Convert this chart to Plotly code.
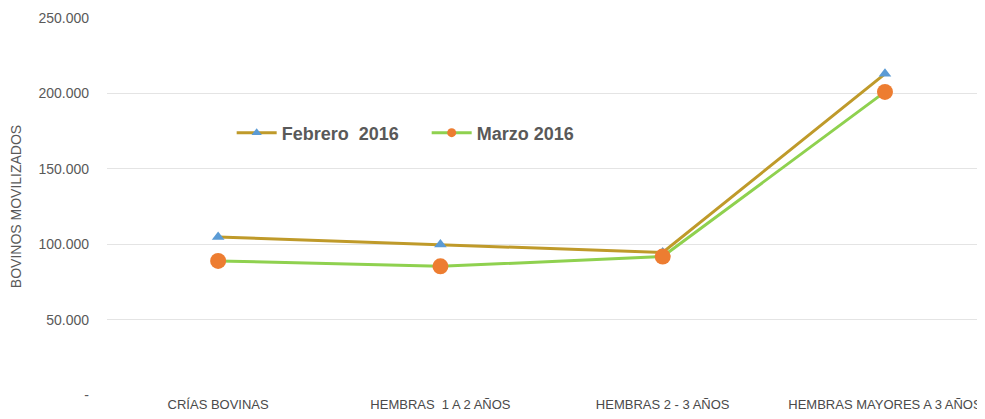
import plotly.graph_objects as go

categories = ["CRÍAS BOVINAS", "HEMBRAS  1 A 2 AÑOS", "HEMBRAS 2 - 3 AÑOS", "HEMBRAS MAYORES A 3 AÑOS"]
febrero_2016 = [104800, 99800, 94500, 213000]
marzo_2016 = [88900, 85300, 91800, 201000]
y_tick_vals = [0, 50000, 100000, 150000, 200000, 250000]
y_tick_text = ["-", "50.000", "100.000", "150.000", "200.000", "250.000"]

FEB_LINE, FEB_MARK = "#BF9A2A", "#5B9BD5"
MAR_LINE, MAR_MARK = "#8FD14F", "#ED7D31"

fig = go.Figure()
fig.add_trace(go.Scatter(
    x=categories, y=febrero_2016, name="Febrero  2016", mode="lines+markers",
    line=dict(color=FEB_LINE, width=3),
    marker=dict(symbol="triangle-up", size=11, color=FEB_MARK),
    showlegend=False,
))
fig.add_trace(go.Scatter(
    x=categories, y=marzo_2016, name="Marzo 2016", mode="lines+markers",
    line=dict(color=MAR_LINE, width=3),
    marker=dict(symbol="circle", size=16, color=MAR_MARK),
    showlegend=False,
))
# legend entries with smaller symbols (draw nothing on the plot)
fig.add_trace(go.Scatter(
    x=[None], y=[None], name="Febrero  2016", mode="lines+markers",
    line=dict(color=FEB_LINE, width=3),
    marker=dict(symbol="triangle-up", size=9, color=FEB_MARK),
))
fig.add_trace(go.Scatter(
    x=[None], y=[None], name="Marzo 2016", mode="lines+markers",
    line=dict(color=MAR_LINE, width=3),
    marker=dict(symbol="circle", size=9, color=MAR_MARK),
))

fig.update_layout(
    width=985, height=419,
    margin=dict(l=99, r=8, t=10, b=32),
    paper_bgcolor="white", plot_bgcolor="white",
    font=dict(family="Liberation Sans, sans-serif", color="#595959", size=12),
    showlegend=True,
    legend=dict(
        orientation="h", x=0.142, xanchor="left", y=0.695, yanchor="middle",
        font=dict(family="Liberation Sans, sans-serif", size=18, color="#595959", weight="bold"),
        bgcolor="rgba(0,0,0,0)", itemwidth=40,
        entrywidth=140, entrywidthmode="pixels",
    ),
    xaxis=dict(
        type="category", range=[-0.5, 3.45], showgrid=False, zeroline=False,
        showline=False, ticks="", automargin=False,
        tickfont=dict(size=13, color="#4a4a4a"),
    ),
    yaxis=dict(
        range=[0, 250000], tickvals=y_tick_vals, ticktext=y_tick_text,
        showgrid=True, gridcolor="#E4E4E4", gridwidth=1, zeroline=False,
        showline=False, ticks="", ticklabelstandoff=17, automargin=False,
        tickfont=dict(size=14, color="#595959"),
        title=dict(text="BOVINOS MOVILIZADOS", font=dict(size=14, color="#595959"), standoff=15),
    ),
)

fig.write_html("out.html")
